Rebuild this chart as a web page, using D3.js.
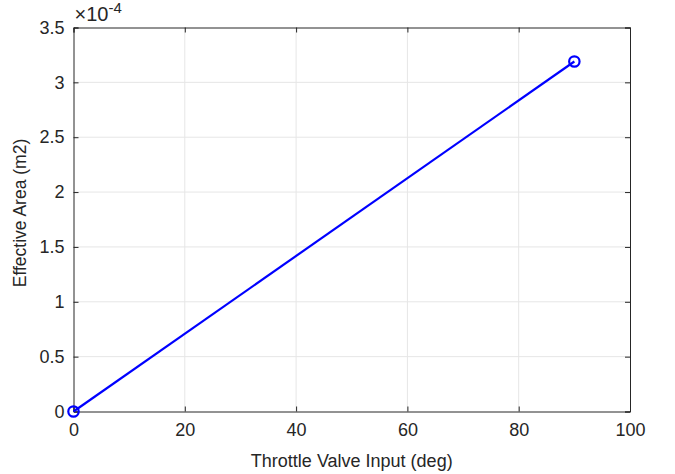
<!DOCTYPE html>
<html>
<head>
<meta charset="utf-8">
<script src="https://cdn.jsdelivr.net/npm/d3@7"></script>
<style>
  body { margin: 0; background: #fff; }
  text { font-family: "Liberation Sans", Arial, sans-serif; }
</style>
</head>
<body>
<div id="chart"></div>
<script>
// data
var throttleDeg = [0, 90];
var effArea = [0, 3.19e-4];
var xTicks = [0, 20, 40, 60, 80, 100];
var yTicks = [0, 0.5, 1, 1.5, 2, 2.5, 3, 3.5]; // x 1e-4

var W = 675, H = 474;
var padL = 73.5, padR = 630, padT = 27.5, padB = 411.5;
var ink = "#262626";

var svg = d3.select("#chart").append("svg")
  .attr("width", W)
  .attr("height", H);

var x = d3.scaleLinear().domain([0, 100]).range([padL, padR]);
var y = d3.scaleLinear().domain([0, 3.5e-4]).range([padB, padT]);
var yVals = yTicks.map(function(d) { return d * 1e-4; });

// grid
var grid = svg.append("g");
grid.selectAll(".gx").data(xTicks.slice(1, -1)).enter().append("line")
  .attr("x1", function(d) { return x(d); })
  .attr("x2", function(d) { return x(d); })
  .attr("y1", padT).attr("y2", padB)
  .attr("stroke", "#e6e6e6").attr("stroke-width", 1);
grid.selectAll(".gy").data(yVals.slice(1, -1)).enter().append("line")
  .attr("y1", function(d) { return y(d); })
  .attr("y2", function(d) { return y(d); })
  .attr("x1", padL).attr("x2", padR)
  .attr("stroke", "#e6e6e6").attr("stroke-width", 1);

// axes
var xAxis = d3.axisBottom(x).tickValues(xTicks).tickSize(-5).tickPadding(12);
var yAxis = d3.axisLeft(y).tickValues(yVals)
  .tickFormat(function(d, i) { return String(yTicks[i]); })
  .tickSize(-5).tickPadding(9);

var gx = svg.append("g").attr("transform", "translate(0," + padB + ")").call(xAxis);
var gy = svg.append("g").attr("transform", "translate(" + padL + ",0)").call(yAxis);
var gx2 = svg.append("g").attr("transform", "translate(0," + padT + ")")
  .call(d3.axisTop(x).tickValues(xTicks).tickSize(-5).tickFormat(""));
var gy2 = svg.append("g").attr("transform", "translate(" + padR + ",0)")
  .call(d3.axisRight(y).tickValues(yVals).tickSize(-5).tickFormat(""));

[gx, gy, gx2, gy2].forEach(function(g) {
  g.selectAll("path").attr("stroke", ink).attr("stroke-width", 1);
  g.selectAll("line").attr("stroke", ink).attr("stroke-width", 1);
  g.selectAll("text").attr("fill", ink).style("font-size", "18px")
    .style("font-family", "'Liberation Sans', Arial, sans-serif");
});

// exponent label
var expo = svg.append("text").attr("x", padL + 1).attr("y", 21)
  .attr("fill", ink).style("font-size", "20px");
expo.append("tspan").text("\u00d710");
expo.append("tspan").attr("dy", -8).style("font-size", "15px").text("-4");

// labels
svg.append("text").attr("x", (padL + padR) / 2).attr("y", 467)
  .attr("text-anchor", "middle").attr("fill", ink).style("font-size", "18px")
  .text("Throttle Valve Input (deg)");
svg.append("text").attr("transform", "translate(26,213) rotate(-90)")
  .attr("text-anchor", "middle").attr("fill", ink).style("font-size", "17.5px")
  .text("Effective Area (m2)");

// line + markers
var pts = throttleDeg.map(function(d, i) { return [d, effArea[i]]; });
svg.append("path").datum(pts)
  .attr("fill", "none").attr("stroke", "#0000ff").attr("stroke-width", 2.2)
  .attr("d", d3.line().x(function(d) { return x(d[0]); }).y(function(d) { return y(d[1]); }));

svg.selectAll(".mk").data(pts).enter().append("circle")
  .attr("cx", function(d) { return x(d[0]); })
  .attr("cy", function(d) { return y(d[1]); })
  .attr("r", 5.2)
  .attr("fill", "none").attr("stroke", "#0000ff").attr("stroke-width", 2.2);
</script>
</body>
</html>
